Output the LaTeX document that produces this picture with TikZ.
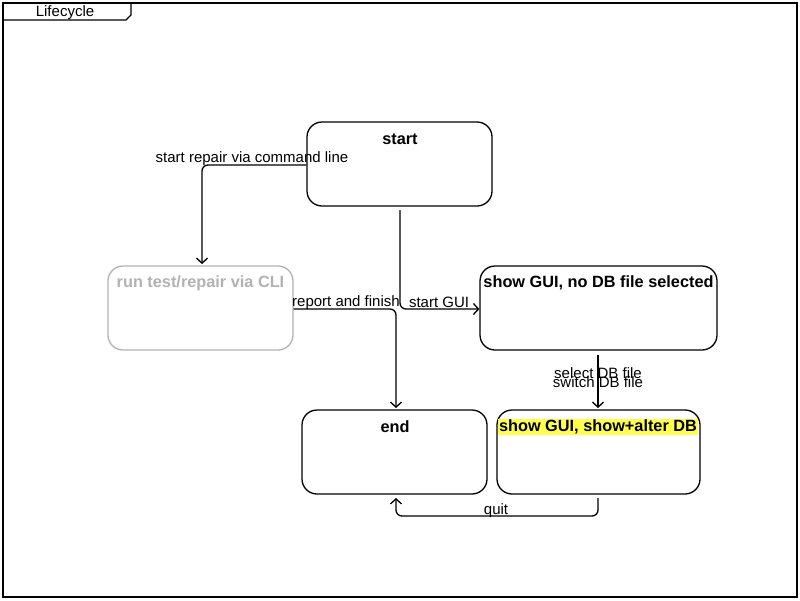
\documentclass[tikz,border=0pt]{standalone}
\usepackage{fontspec}
\setmainfont{Liberation Sans}
\usetikzlibrary{arrows.meta}
\tikzset{
  state/.style={draw=black, line width=1.3pt, rounded corners=15pt, minimum width=185pt, minimum height=84pt, inner sep=0pt},
  ttl/.style={font=\fontsize{16.3}{18}\selectfont\bfseries, inner sep=1pt},
  lbl/.style={font=\fontsize{15}{17}\selectfont, inner sep=0pt},
  conn/.style={line width=1.3pt, rounded corners=6pt, -{Straight Barb[length=5pt,width=11pt,line width=1.3pt]}},
}
\begin{document}
\begin{tikzpicture}[x=1pt,y=-1pt]
\useasboundingbox (0,0) rectangle (800,600);
% frame
\draw[line width=1.3pt] (3,3) rectangle (797,597);
\draw[line width=1.3pt] (3,20) -- (126,20) -- (131,15) -- (131,3);
\node[lbl] (frametitle) at (65,12.5) {Lifecycle};
% states
\node[state, minimum width=185pt] (start) at (399.5,164) {};
\node[ttl] (startT) at (400,139) {start};
\node[state, draw=black!30, minimum width=185pt] (run) at (200.5,308) {};
\node[ttl, text=black!30] (runT) at (200.5,283) {run test/repair via CLI};
\node[state, minimum width=237pt] (gui) at (598.5,308) {};
\node[ttl] (guiT) at (598.5,283) {show GUI, no DB file selected};
\node[state, minimum width=185pt] (end) at (394.5,452) {};
\node[ttl] (endT) at (395,427) {end};
\node[state, minimum width=203pt] (alter) at (598.5,452) {};
\node[ttl, fill={rgb,255:red,255;green,255;blue,80}, minimum width=198pt] (alterT) at (598,427) {show GUI, show+alter DB};
% connectors
\draw[conn] (start.west|-0,165) -- (202,165) -- (202,264);
\node[lbl] (l1) at (252,158.5) {start repair via command line};
\draw[conn] (400,210) -- (400,309) -- (gui.west|-0,309);
\node[lbl] (l2) at (439,302.5) {start GUI};
\draw[conn] (run.east|-0,309) -- (396,309) -- (396,408);
\node[lbl] (l3) at (346,302.5) {report and finish};
\draw[conn] (598,355) -- (598,408);
\node[lbl] (l4) at (598,373.5) {select DB file};
\node[lbl] (l5) at (598,382.5) {switch DB file};
\draw[conn] (598,498) -- (598,516) -- (396,516) -- (396,498);
\node[lbl] (l6) at (496,510.5) {quit};
\end{tikzpicture}
\end{document}
